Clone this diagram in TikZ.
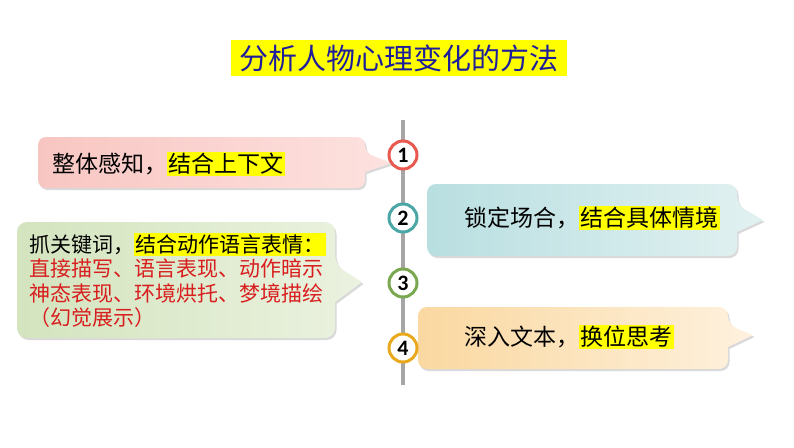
\documentclass[tikz,border=0pt]{standalone}
\usepackage{fontspec}
\usepackage{xcolor}
\usetikzlibrary{shadows}
\newfontfamily\cjk{Noto Sans CJK SC}
\newfontfamily\numfont{Carlito}
\definecolor{titleblue}{HTML}{1E1E9C}
\definecolor{hlyellow}{HTML}{FFFF00}
\definecolor{txtred}{HTML}{D81E1E}
\definecolor{linegray}{HTML}{A6A6A6}
\definecolor{cOne}{HTML}{E8594F}
\definecolor{cTwo}{HTML}{4BA6A6}
\definecolor{cThree}{HTML}{79A850}
\definecolor{cFour}{HTML}{E9A91E}
\definecolor{pinkL}{HTML}{F8C6C2}
\definecolor{pinkR}{HTML}{FDE2DF}
\definecolor{tealL}{HTML}{B9DFE1}
\definecolor{tealR}{HTML}{E2F1F1}
\definecolor{greenL}{HTML}{D3E4BE}
\definecolor{greenR}{HTML}{EBF2E0}
\definecolor{orangeL}{HTML}{FAD8A0}
\definecolor{orangeR}{HTML}{FEF1DE}
\newcommand{\hlt}[1]{{\setlength{\fboxsep}{1.5pt}\colorbox{hlyellow}{#1}}}
\tikzset{
  calloutbox/.style={drop shadow={opacity=0.3, shadow xshift=1.5pt, shadow yshift=-2pt}},
  stepcircle/.style={circle, draw=#1, line width=3pt, fill=white, minimum size=28pt, inner sep=0pt, font=\numfont\bfseries\fontsize{22}{22}\selectfont},
  boxtext/.style={anchor=west, inner sep=0pt, font=\cjk\fontsize{23}{25}\selectfont, text=black},
}
\begin{document}
\begin{tikzpicture}[x=1pt, y=-1pt]
\useasboundingbox (0,0) rectangle (794,447);
% title
\node[fill=hlyellow, minimum width=336pt, minimum height=36pt, inner sep=0pt, text=titleblue, font=\cjk\fontsize{29}{31}\selectfont] (title) at (399,58) {分析人物心理变化的方法};
% timeline
\coordinate (ltop) at (403,120);
\coordinate (lbot) at (403,385);
\draw[linegray, line width=4pt] (ltop) -- (lbot);
% box 1 pink
\path[calloutbox, left color=pinkL, right color=pinkR, rounded corners=8pt]
  (38,137) -- (365,137) -- (365,153) [sharp corners] -- (392,163) -- (365,172) [rounded corners=8pt] -- (365,188) -- (38,188) -- cycle;
% box 2 teal
\path[calloutbox, left color=tealL, right color=tealR, rounded corners=9pt]
  (427,184) -- (737,184) -- (737,205) [sharp corners] -- (763,220) -- (737,232) [rounded corners=9pt] -- (737,256) -- (427,256) -- cycle;
% box 3 green
\path[calloutbox, left color=greenL, right color=greenR, rounded corners=10pt]
  (17,222) -- (335,222) -- (335,265) [sharp corners] -- (362,282) -- (335,302) [rounded corners=10pt] -- (335,338) -- (17,338) -- cycle;
% box 4 orange
\path[calloutbox, left color=orangeL, right color=orangeR, rounded corners=9pt]
  (418,307) -- (728,307) -- (728,325) [sharp corners] -- (753,335) -- (728,347) [rounded corners=9pt] -- (728,369) -- (418,369) -- cycle;
% circles
\node[stepcircle=cOne] (s1) at (403,155) {1};
\node[stepcircle=cTwo] (s2) at (403,218) {2};
\node[stepcircle=cThree] (s3) at (403,283) {3};
\node[stepcircle=cFour] (s4) at (403,348) {4};
% texts
\node[boxtext] (t1) at (52,164) {整体感知，\hlt{结合上下文}};
\node[boxtext] (t2) at (464,218) {锁定场合，\hlt{结合具体情境}};
\node[boxtext] (t4) at (464,337) {深入文本，\hlt{换位思考}};
\node[anchor=north west, inner sep=0pt, align=left, font=\cjk\fontsize{21}{24.5}\selectfont] (t3) at (29,233)
  {抓关键词，\hlt{结合动作语言表情：}\\
   \textcolor{txtred}{直接描写、语言表现、动作暗示}\\
   \textcolor{txtred}{神态表现、环境烘托、梦境描绘}\\
   \textcolor{txtred}{（幻觉展示）}};
\end{tikzpicture}
\end{document}
